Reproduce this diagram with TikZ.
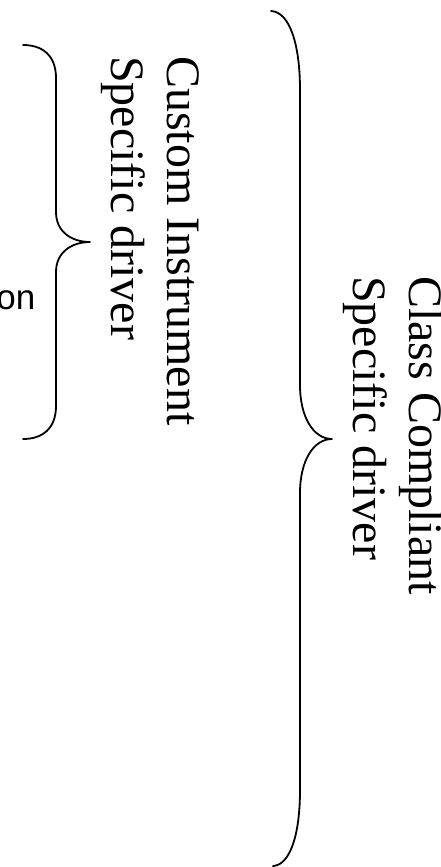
\documentclass[tikz,border=0pt]{standalone}
\usepackage{fontspec}
\setmainfont{Liberation Serif}
\newfontfamily\labelsans{Liberation Sans}
\begin{document}
\begin{tikzpicture}[x=1pt,y=-1pt,
  brace/.style={line width=1.8pt, line cap=round, line join=round},
  vlabel/.style={rotate=-90, anchor=base west, inner sep=0pt,
    font=\fontsize{48}{55}\selectfont},
  hlabel/.style={anchor=base east, inner sep=0pt,
    font=\labelsans\fontsize{35}{40}\selectfont}]
  \useasboundingbox (0,0) rectangle (441,867);

  % clipped label on the far left
  \node[hlabel] (app) at (35.5,309) {on};

  % inner brace
  \coordinate (itop) at (23,45);
  \coordinate (itip) at (90,242);
  \coordinate (ibot) at (23,439);
  \draw[brace] (itop) .. controls (42,45) and (56,55) .. (56,78)
    -- (56,212) .. controls (56,232) and (72,242) .. (itip)
    .. controls (72,242) and (56,252) .. (56,272)
    -- (56,406) .. controls (56,429) and (42,439) .. (ibot);

  % outer brace
  \coordinate (otop) at (271,11);
  \coordinate (otip) at (332,439);
  \coordinate (obot) at (273,866);
  \draw[brace] (otop) .. controls (290,12) and (300,45) .. (300,90)
    -- (300,385) .. controls (300,418) and (314,439) .. (otip)
    .. controls (314,439) and (300,460) .. (300,493)
    -- (300,790) .. controls (300,835) and (290,865) .. (obot);

  % labels
  \node[vlabel] (cust1) at (167.5,56) {Custom Instrument};
  \node[vlabel] (cust2) at (111.5,56) {Specific driver};
  \node[vlabel] (class1) at (409,276) {Class Compliant};
  \node[vlabel] (class2) at (353.5,276) {Specific driver};
\end{tikzpicture}
\end{document}
